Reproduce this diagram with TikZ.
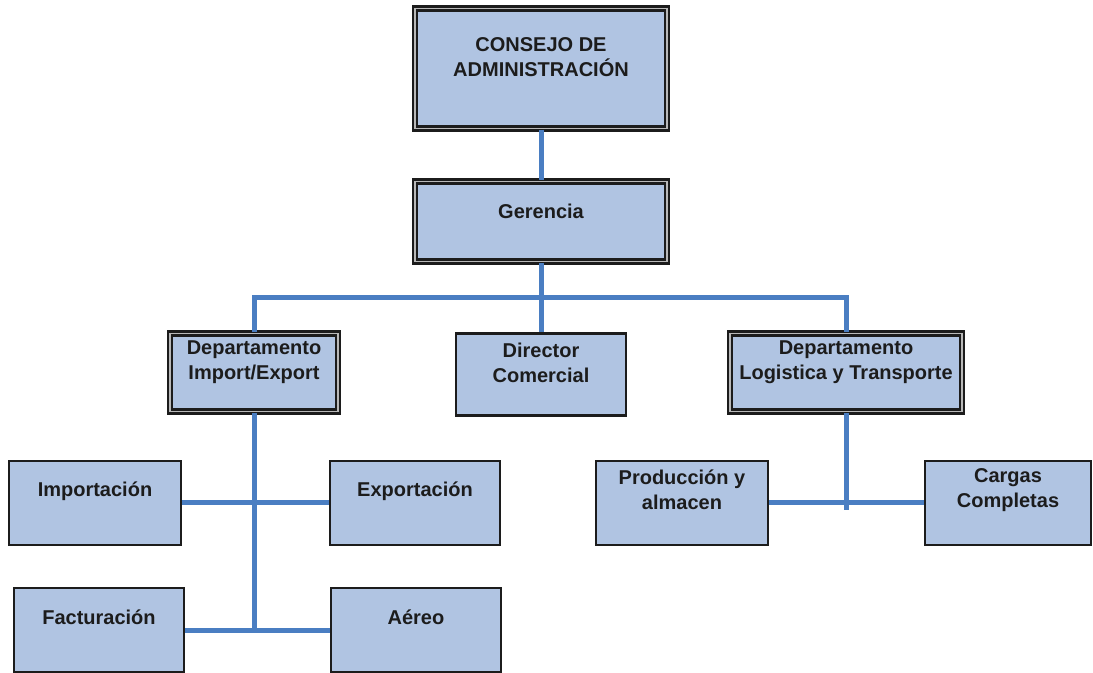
\documentclass[tikz,border=0pt]{standalone}
\usepackage{fontspec}
\setmainfont{Liberation Sans}
\definecolor{boxfill}{HTML}{B0C4E2}
\definecolor{conncol}{HTML}{4A7EC2}
\definecolor{edge}{HTML}{1C1C1C}
\tikzset{
  basebox/.style={rectangle, fill=boxfill, inner sep=0pt},
  singlebox/.style={basebox, draw=edge, line width=1.4pt},
  doublebox/.style={basebox, draw=edge, line width=1.2pt, double=gray!55, double distance=0.9pt},
  lbl/.style={align=center, inner sep=0pt, text=edge, font=\fontsize{10pt}{12.5pt}\selectfont\bfseries},
  conn/.style={draw=conncol, line width=2.5pt}
}
\begin{document}
\begin{tikzpicture}[x=0.5pt,y=-0.5pt]
\useasboundingbox (0,0) rectangle (1093,673);
% connectors (drawn first, boxes on top)
\coordinate (gerbus) at (541,298);
\coordinate (busL) at (254,298);
\coordinate (busR) at (846,298);
\coordinate (iebot) at (254,630);
\coordinate (lgbot) at (846,510);
% boxes
\node[doublebox, minimum width=126pt, minimum height=60pt] (consejo) at (541,68.5) {};
\node[doublebox, minimum width=126pt, minimum height=40pt] (gerencia) at (541,221.5) {};
\node[doublebox, minimum width=84pt, minimum height=39pt] (dimp) at (254,372.5) {};
\node[singlebox, minimum width=85pt, minimum height=41pt] (dircom) at (541,374.5) {};
\node[doublebox, minimum width=116pt, minimum height=39pt] (dlog) at (846,372.5) {};
\node[singlebox, minimum width=86pt, minimum height=42pt] (imp) at (95,503) {};
\node[singlebox, minimum width=85pt, minimum height=42pt] (exp) at (415,503) {};
\node[singlebox, minimum width=85pt, minimum height=42pt] (fact) at (99,630) {};
\node[singlebox, minimum width=85pt, minimum height=42pt] (aereo) at (416,630) {};
\node[singlebox, minimum width=86pt, minimum height=42pt] (prod) at (682,503) {};
\node[singlebox, minimum width=83pt, minimum height=42pt] (cargas) at (1008,503) {};
\draw[conn] (consejo.south) -- (gerencia.north);
\draw[conn] (gerencia.south) -- (dircom.north);
\draw[conn] (dimp.north) -- (busL) -- (busR) -- (dlog.north);
\draw[conn] (dimp.south) -- (iebot);
\draw[conn] (imp.east) -- (exp.west);
\draw[conn] (fact.east) -- (aereo.west);
\draw[conn] (dlog.south) -- (lgbot);
\draw[conn] (prod.east) -- (cargas.west);
% labels
\node[lbl] (consejot) at (541,57.5) {CONSEJO DE\\ADMINISTRACIÓN};
\node[lbl] (gerenciat) at (541,211) {Gerencia};
\node[lbl] (dimpt) at (254,362) {Departamento\\Import/Export};
\node[lbl] (dircomt) at (541,363) {Director\\Comercial};
\node[lbl] (dlogt) at (846,362) {Departamento\\Logistica y Transporte};
\node[lbl] (impt) at (95,491) {Importación};
\node[lbl] (expt) at (415,491) {Exportación};
\node[lbl] (factt) at (99,617) {Facturación};
\node[lbl] (aereot) at (416,617) {Aéreo};
\node[lbl] (prodt) at (682,490) {Producción y\\almacen};
\node[lbl] (cargast) at (1008,490) {Cargas\\Completas};
\end{tikzpicture}
\end{document}
